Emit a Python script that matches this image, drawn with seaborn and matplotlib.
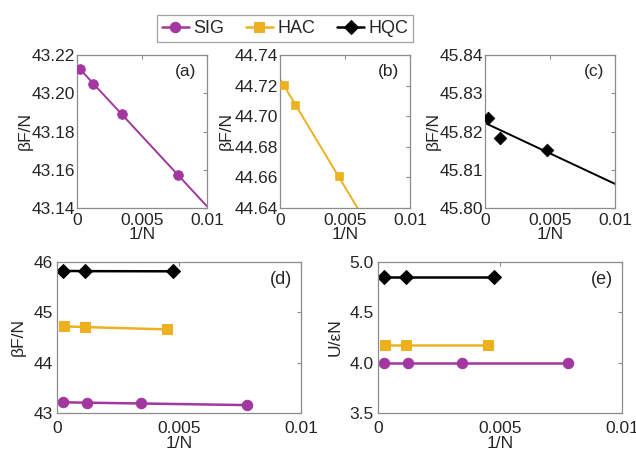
import numpy as np
import pandas as pd
from matplotlib import pyplot as plt
import seaborn as sns

# 1/N values and per-particle quantities
sig_x = [0.00026, 0.00123, 0.00346, 0.0078]
sig_f = [43.2125, 43.205, 43.189, 43.157]
sig_u = [4.0, 4.0, 4.0, 4.0]

hac_x = [0.0003, 0.00115, 0.0045]
hac_f = [44.7205, 44.7074, 44.6608]
hac_u = [4.18, 4.18, 4.18]

hqc_x = [0.00026, 0.00115, 0.00474]
hqc_f = [45.8235, 45.8183, 45.8151]
hqc_u = [4.85, 4.85, 4.85]

names = ['SIG', 'HAC', 'HQC']
colors = {'SIG': '#a2379f', 'HAC': '#edb120', 'HQC': 'black'}
markers = {'SIG': 'o', 'HAC': 's', 'HQC': 'D'}
msizes = {'SIG': 7, 'HAC': 6, 'HQC': 6.5}

series = {
    'SIG': pd.DataFrame({'x': sig_x, 'F': sig_f, 'U': sig_u}),
    'HAC': pd.DataFrame({'x': hac_x, 'F': hac_f, 'U': hac_u}),
    'HQC': pd.DataFrame({'x': hqc_x, 'F': hqc_f, 'U': hqc_u}),
}

sns.set_style('white')
plt.rcParams['font.family'] = ['Liberation Sans', 'DejaVu Sans']

fig = plt.figure(figsize=(6.36, 4.5), dpi=100)
W, H = 636, 450
FS = 12.5


def px_axes(l, t, r, b):
    return fig.add_axes([l / W, 1 - b / H, (r - l) / W, (b - t) / H])


def style(ax, xpad, ypad, xlab_y, ylab, ylab_x):
    for s in ax.spines.values():
        s.set_color('#8c8c8c')
        s.set_linewidth(0.9)
    ax.tick_params(direction='in', top=True, right=True, length=3,
                   color='#8c8c8c', labelsize=FS)
    ax.tick_params(axis='x', pad=xpad)
    ax.tick_params(axis='y', pad=ypad)
    ax.set_xlim(0, 0.01)
    ax.set_xticks([0, 0.005, 0.01])
    ax.set_xticklabels(['0', '0.005', '0.01'])
    ax.set_xlabel('1/N', fontsize=FS, va='center')
    ax.xaxis.set_label_coords(0.5, xlab_y)
    ax.set_ylabel(ylab, fontsize=FS, va='center')
    ax.yaxis.set_label_coords(ylab_x, 0.5)


# top row: each model with its linear fit
top = [('SIG', 'a', (77, 55, 207, 208), (43.14, 43.22), 0.02, -0.395),
       ('HAC', 'b', (280, 55, 410, 208), (44.64, 44.74), 0.02, -0.41),
       ('HQC', 'c', (485, 55, 615, 208), (45.80, 45.84), 0.01, -0.40)]

for name, tag, box, ylim, step, ylx in top:
    ax = px_axes(*box)
    d = series[name]
    slope, icpt = np.polyfit(d['x'], d['F'], 1)
    fx = np.array([0, 0.01])
    sns.lineplot(x=fx, y=icpt + slope * fx, color=colors[name], lw=1.4, ax=ax)
    sns.scatterplot(data=d, x='x', y='F', color=colors[name],
                    marker=markers[name], s=msizes[name] ** 2,
                    edgecolor=colors[name], zorder=3, ax=ax)
    ax.set_ylim(*ylim)
    yt = np.round(np.arange(ylim[0], ylim[1] + 1e-9, step), 2)
    ax.set_yticks(yt)
    ax.set_yticklabels(['%.2f' % v for v in yt])
    style(ax, 3.5, 1.5, -0.172, 'βF/N', ylx)
    ax.text(0.92, 0.89, '(%s)' % tag, transform=ax.transAxes,
            ha='right', va='center', fontsize=FS)

# bottom row: all models together
bottom = [('F', 'd', (57, 262, 301, 413), (43, 46), [43, 44, 45, 46],
           ['43', '44', '45', '46'], 'βF/N', -0.16),
          ('U', 'e', (378, 262, 622, 413), (3.5, 5.0), [3.5, 4.0, 4.5, 5.0],
           ['3.5', '4.0', '4.5', '5.0'], 'U/εN', -0.176)]

for col, tag, box, ylim, yt, ytl, ylab, ylx in bottom:
    ax = px_axes(*box)
    for name in names:
        d = series[name]
        sns.lineplot(data=d, x='x', y=col, color=colors[name],
                     marker=markers[name], markersize=msizes[name] + 0.5,
                     markeredgecolor=colors[name], lw=1.8, ax=ax, label=name)
    ax.set_ylim(*ylim)
    ax.set_yticks(yt)
    ax.set_yticklabels(ytl)
    style(ax, 5.5, 3, -0.205, ylab, ylx)
    ax.text(0.965, 0.885, '(%s)' % tag, transform=ax.transAxes,
            ha='right', va='center', fontsize=13)
    handles, labels = ax.get_legend_handles_labels()
    ax.get_legend().remove()

leg = fig.legend(handles, labels, loc='center', ncol=3,
                 bbox_to_anchor=(285 / W, 1 - 28.5 / H), fontsize=13,
                 frameon=True, fancybox=False, edgecolor='#8c8c8c',
                 handlelength=1.5, handletextpad=0.25, columnspacing=1.2,
                 borderpad=0.25)
leg.get_frame().set_linewidth(0.9)

fig.savefig('out.png', dpi=100)
